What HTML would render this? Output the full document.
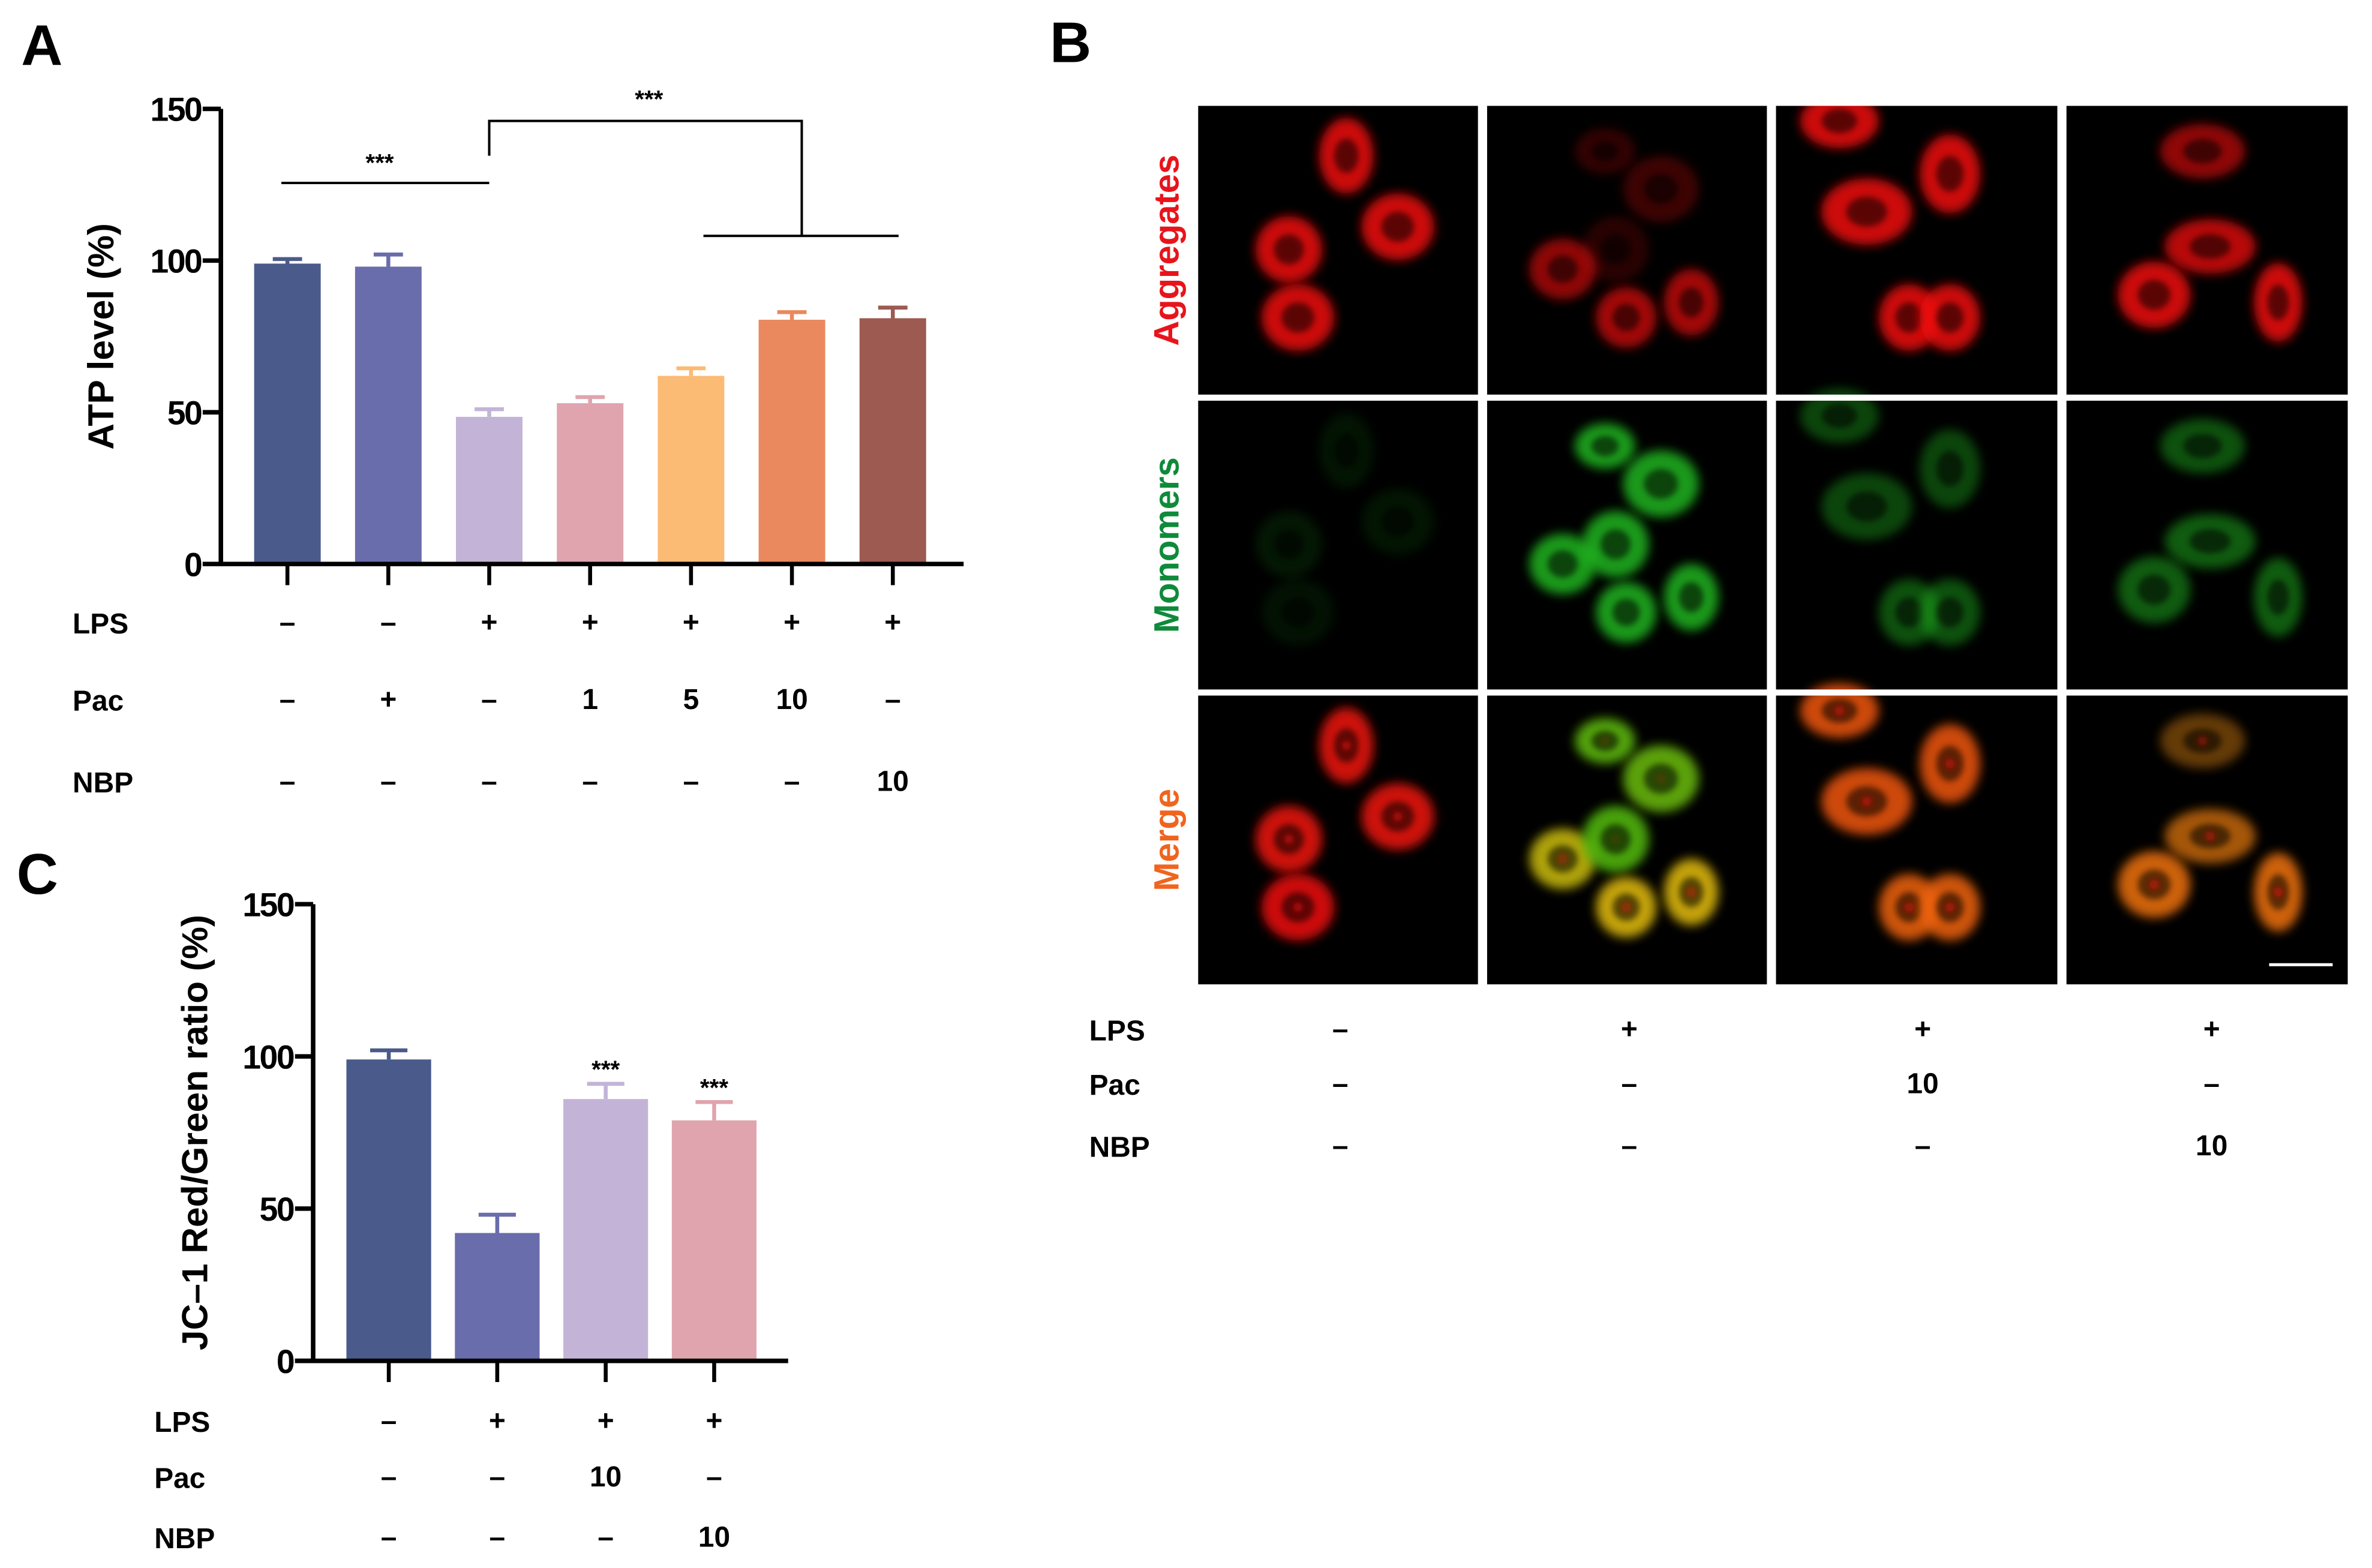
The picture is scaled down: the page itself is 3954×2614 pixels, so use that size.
<!DOCTYPE html>
<html><head><meta charset="utf-8"><style>
html,body{margin:0;padding:0;background:#fff;}
svg{display:block;}
text{font-family:"Liberation Sans",Arial,sans-serif;font-weight:bold;}
</style></head><body>
<svg id="fig" xmlns="http://www.w3.org/2000/svg" width="3954" height="2614" viewBox="0 0 1568 1037" preserveAspectRatio="none">
<defs>
<filter id="blur2" x="-50%" y="-50%" width="200%" height="200%"><feGaussianBlur stdDeviation="3.4"/></filter>
<filter id="blur1" x="-50%" y="-50%" width="200%" height="200%"><feGaussianBlur stdDeviation="2"/></filter>
</defs>
<g id="panelA"></g>
<g id="panelC"></g>
<g id="panelB"></g>
</svg>
<script>
// ---- Panel A data ----
const aCategories = ["Ctrl","Pac","LPS","LPS+Pac1","LPS+Pac5","LPS+Pac10","LPS+NBP10"];
const aValues = [99, 98, 48.5, 53, 62, 80.5, 81];
const aErrors = [1.5, 4, 2.5, 2, 2.5, 2.5, 3.5];
const aColors = ["#4a5a8a","#6a6dab","#c3b4d7","#e0a4ae","#fbbb75","#e9895d","#9c5a50"];
const aTicks = [0, 50, 100, 150];
const aLPS = ["–","–","+","+","+","+","+"];
const aPac = ["–","+","–","1","5","10","–"];
const aNBP = ["–","–","–","–","–","–","10"];
// ---- Panel C data ----
const cCategories = ["Ctrl","LPS","LPS+Pac10","LPS+NBP10"];
const cValues = [99, 42, 86, 79];
const cErrors = [3, 6, 5, 6];
const cColors = ["#4a5a8a","#6a6dab","#c3b4d7","#e0a4ae"];
const cStars = ["","","***","***"];
const cTicks = [0, 50, 100, 150];
const cLPS = ["–","+","+","+"];
const cPac = ["–","–","10","–"];
const cNBP = ["–","–","–","10"];
// ---- Panel B condition labels ----
const bLPS = ["–","+","+","+"];
const bPac = ["–","–","10","–"];
const bNBP = ["–","–","–","10"];

const NS="http://www.w3.org/2000/svg";
function mk(parent,tag,attrs,text){const e=document.createElementNS(NS,tag);for(const k in attrs)e.setAttribute(k,attrs[k]);if(text!==undefined)e.textContent=text;parent.appendChild(e);return e;}

function barChart(g,cfg){
  const {x0,x1,y0,yTop,max,cats,vals,errs,cols,ticks,first,step,bw,rows,rowY,rowLabelX,title,titleX,fs,tfs}=cfg;
  const y=v=>y0-(v/max)*(y0-yTop);
  const xc=i=>first+i*step;
  for(let i=0;i<cats.length;i++){
    const b=mk(g,'rect',{x:xc(i)-bw/2,y:y(vals[i]),width:bw,height:y0-y(vals[i]),fill:cols[i]});
    
    
    const e=mk(g,'path',{d:`M${xc(i)} ${y(vals[i])}V${y(vals[i]+errs[i])}M${xc(i)-bw*0.22} ${y(vals[i]+errs[i])}H${xc(i)+bw*0.22}`,stroke:cols[i],'stroke-width':2.6,fill:'none'});
    
    
    const t=mk(g,'line',{x1:xc(i),x2:xc(i),y1:y0,y2:y0+14,stroke:'#000','stroke-width':2.6});
    
    
  }
  const ax=mk(g,'path',{d:`M${x0} ${yTop}V${y0}M${x0-12} ${y0}H${x1}`,stroke:'#000','stroke-width':3,fill:'none'});
  
  
  for(const tv of ticks){
    const tl=mk(g,'line',{x1:x0-12,x2:x0,y1:y(tv),y2:y(tv),stroke:'#000','stroke-width':3});
    
    
    const tt=mk(g,'text',{x:x0-13,y:y(tv)+8,'text-anchor':'end','font-size':fs,'letter-spacing':-1},String(tv));
    
    
  }
  const yt=mk(g,'text',{x:titleX,y:(y0+yTop)/2,'text-anchor':'middle','font-size':tfs,transform:`rotate(-90 ${titleX} ${(y0+yTop)/2})`},title);
  
  
  rows.forEach((r,ri)=>{
    const lt=mk(g,'text',{x:rowLabelX,y:rowY[ri]+8,'font-size':19},r.name);
    
    
    r.vals.forEach((v,i)=>{
      const ct=mk(g,'text',{x:xc(i),y:rowY[ri]+7,'text-anchor':'middle','font-size':19},v);
      
      
    });
  });
  return {y,xc};
}

// Panel A
const gA=document.getElementById('panelA');
const pl=mk(gA,'text',{x:14,y:43,'font-size':38},'A');


const A=barChart(gA,{x0:146,x1:637,y0:373,yTop:72,max:150,cats:aCategories,vals:aValues,errs:aErrors,cols:aColors,ticks:aTicks,first:190,step:66.7,bw:44,
  rows:[{name:'LPS',vals:aLPS},{name:'Pac',vals:aPac},{name:'NBP',vals:aNBP}],rowY:[411,462,516],rowLabelX:48,title:'ATP level (%)',titleX:75,fs:22,tfs:24});
const br=mk(gA,'path',{d:`M186 121H${A.xc(2)}M${A.xc(2)} 103V80H530V156M465 156H594`,stroke:'#000','stroke-width':1.6,fill:'none'});


const s1=mk(gA,'text',{x:251,y:113,'text-anchor':'middle','font-size':16},'***');


const s2=mk(gA,'text',{x:429,y:71,'text-anchor':'middle','font-size':16},'***');



// Panel C
const gC=document.getElementById('panelC');
const plc=mk(gC,'text',{x:11,y:591,'font-size':38},'C');


const C=barChart(gC,{x0:207,x1:521,y0:900,yTop:598,max:150,cats:cCategories,vals:cValues,errs:cErrors,cols:cColors,ticks:cTicks,first:257,step:71.7,bw:56,
  rows:[{name:'LPS',vals:cLPS},{name:'Pac',vals:cPac},{name:'NBP',vals:cNBP}],rowY:[939,976,1016],rowLabelX:102,title:'JC\u20131 Red/Green ratio (%)',titleX:137,fs:22,tfs:24});
cStars.forEach((s,i)=>{ if(!s)return;
  const st=mk(gC,'text',{x:C.xc(i),y:C.y(cValues[i]+cErrors[i])-4,'text-anchor':'middle','font-size':16},s);
  
  
});

// Panel B microscopy
const gB=document.getElementById('panelB');
const plb=mk(gB,'text',{x:694,y:41,'font-size':38},'B');


const colX=[792,983,1174,1366], rowYs=[70,265,460], W=186, H=191;
const cells=[
 [[98,33,18,25,1,.35],[132,80,24,22,1,.35],[60,95,22,22,1,.4],[66,140,24,22,1,.3]],
 [[78,30,20,15,.25,1],[50,108,22,20,.7,1],[85,95,22,22,.2,1],[92,140,20,20,.8,1],[135,130,18,22,.8,1],[115,55,25,22,.3,1]],
 [[42,10,26,18,1,.6],[115,45,20,26,1,.6],[60,70,30,22,1,.6],[88,140,20,22,1,.7],[115,140,20,22,1,.7]],
 [[90,30,28,18,.7,.7],[95,93,30,18,.9,.8],[58,125,24,22,1,.8],[140,130,16,26,1,.8]]
];
const rowNames=['Aggregates','Monomers','Merge'];
const rowColors=['#e8141c','#0f8a3a','#f0641e'];
for(let r=0;r<3;r++){
  const rl=mk(gB,'text',{x:779,y:rowYs[r]+H/2,'text-anchor':'middle','font-size':23,fill:rowColors[r],transform:`rotate(-90 779 ${rowYs[r]+H/2})`},rowNames[r]);
  
  
  for(let c=0;c<4;c++){
    const g=mk(gB,'g',{});
    
    
    const x=colX[c], y=rowYs[r];
    mk(g,'rect',{x:x,y:y,width:W,height:H,fill:'#000'});
    const cg=mk(g,'g',{});
    cells[c].forEach(cl=>{
      let fill,op;
      const rI=cl[4], gI=cl[5];
      if(r===0){fill='#f01010';op=rI*0.85;}
      else if(r===1){fill='#20c020';op=gI*(c===0?0.3:(c===1?0.8:0.6));}
      else{const gg=Math.round(190*gI*(c===0?0.3:(c===1?1:0.75))); const rr=Math.round(240*Math.min(1,rI+(c===1?0.15:0)));fill=`rgb(${rr},${gg},10)`;op=Math.max(rI,gI)*0.85;}
      const cx=x+cl[0], cy=y+cl[1];
      mk(cg,'ellipse',{cx:cx,cy:cy,rx:cl[2],ry:cl[3],fill:fill,opacity:op,filter:'url(#blur2)'});
      mk(cg,'ellipse',{cx:cx,cy:cy,rx:cl[2]*0.45,ry:cl[3]*0.45,fill:'#000',opacity:0.55,filter:'url(#blur1)'});
      if(r===2) mk(cg,'circle',{cx:cx,cy:cy,r:3,fill:'#d01010',opacity:rI*0.8,filter:'url(#blur1)'});
    });
  }
}
for(let c=0;c<4;c++){
  mk(gB,'rect',{x:colX[c]-6,y:64,width:6,height:600,fill:'#fff'});
}
mk(gB,'rect',{x:colX[3]+W,y:64,width:20,height:600,fill:'#fff'});
mk(gB,'rect',{x:786,y:55,width:790,height:15,fill:'#fff'});
mk(gB,'rect',{x:786,y:rowYs[0]+H,width:790,height:4,fill:'#fff'});
mk(gB,'rect',{x:786,y:rowYs[1]+H,width:790,height:4,fill:'#fff'});
mk(gB,'rect',{x:786,y:rowYs[2]+H,width:790,height:12,fill:'#fff'});
const sb=mk(gB,'line',{x1:1500,x2:1542,y1:638,y2:638,stroke:'#fff','stroke-width':2});


const bCenters=[886,1077,1271,1462];
[['LPS',bLPS,680],['Pac',bPac,716],['NBP',bNBP,757]].forEach(([n,vals,yy])=>{
  const lt=mk(gB,'text',{x:720,y:yy+8,'font-size':19},n);
  
  
  vals.forEach((v,i)=>{
    const t=mk(gB,'text',{x:bCenters[i],y:yy+7,'text-anchor':'middle','font-size':19},v);
    
    
  });
});
</script>
</body></html>
